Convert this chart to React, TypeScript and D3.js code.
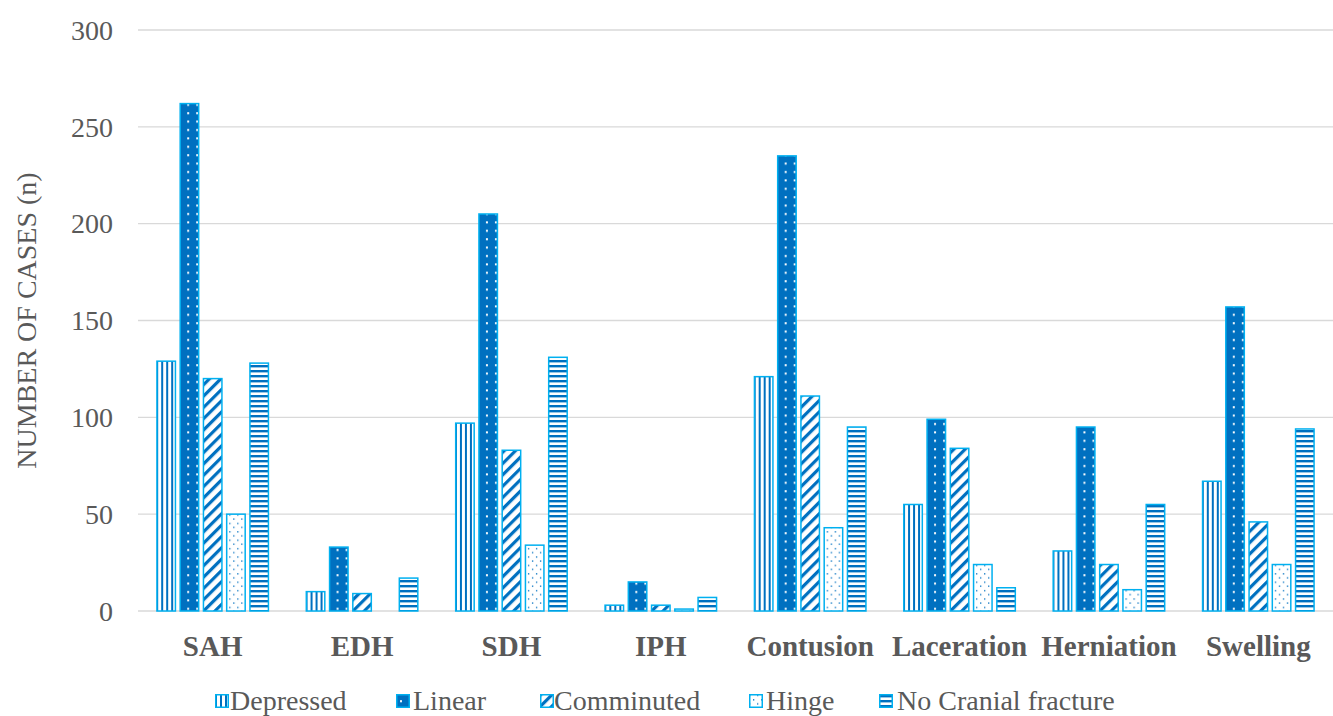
import React from "react";
import * as d3 from "d3";

const categories = ["SAH", "EDH", "SDH", "IPH", "Contusion", "Laceration", "Herniation", "Swelling"];
const seriesNames = ["Depressed", "Linear", "Comminuted", "Hinge", "No Cranial fracture"];
const depressed = [129, 10, 97, 3, 121, 55, 31, 67];
const linear = [262, 33, 205, 15, 235, 99, 95, 157];
const comminuted = [120, 9, 83, 3, 111, 84, 24, 46];
const hinge = [50, 0, 34, 1, 43, 24, 11, 24];
const noFracture = [128, 17, 131, 7, 95, 12, 55, 94];
const yTicks = [0, 50, 100, 150, 200, 250, 300];

const seriesValues = [depressed, linear, comminuted, hinge, noFracture];
const patternIds = ["pVert", "pDots", "pDiag", "pSparse", "pHoriz"];

const DARK = "#0070C0";
const LIGHT = "#00B0F0";
const FONT = "'Liberation Serif', 'Times New Roman', serif";

const W = 1333;
const H = 716;
const left = 138;
const right = 1333;
const top = 30;
const bottom = 611;
const groupW = 113;

export default function App() {
  const x0 = d3.scaleBand<string>().domain(categories).range([left, right]).padding(0);
  const x1 = d3
    .scaleBand<number>()
    .domain(d3.range(seriesNames.length))
    .range([0, groupW])
    .paddingInner(0.14);
  const groupOffset = (x0.bandwidth() - groupW) / 2;
  const y = d3.scaleLinear().domain([0, 300]).range([bottom, top]);

  const legendItems = [
    { sx: 215, tx: 230 },
    { sx: 396, tx: 413 },
    { sx: 540, tx: 554 },
    { sx: 749, tx: 766 },
    { sx: 879, tx: 897 },
  ];

  return (
    <svg width={W} height={H} style={{ position: "absolute", left: 0, top: 0, background: "#fff" }}>
      <defs>
        <pattern id="pVert" width={5} height={10} patternUnits="userSpaceOnUse">
          <rect width={5} height={10} fill="#fff" />
          <rect x={0} width={2} height={10} fill={DARK} />
        </pattern>
        <pattern id="pDots" width={9} height={8.4} patternUnits="userSpaceOnUse">
          <rect width={9} height={8.4} fill={DARK} />
          <rect x={4} y={3} width={2} height={2} fill="#fff" />
        </pattern>
        <pattern id="pDiag" width={8} height={8} patternUnits="userSpaceOnUse" patternTransform="rotate(45)">
          <rect width={8} height={8} fill="#fff" />
          <rect x={0} width={3.2} height={8} fill={DARK} />
        </pattern>
        <pattern id="pSparse" width={8} height={8.4} patternUnits="userSpaceOnUse">
          <rect width={8} height={8.4} fill="#fff" />
          <rect x={1} y={2} width={1.3} height={1.3} fill={DARK} />
          <rect x={5} y={6} width={1.3} height={1.3} fill={DARK} />
        </pattern>
        <pattern id="pHoriz" width={10} height={5} patternUnits="userSpaceOnUse">
          <rect width={10} height={5} fill="#fff" />
          <rect y={0} width={10} height={2.4} fill={DARK} />
        </pattern>
      </defs>

      {yTicks.map((t) => (
        <g key={t}>
          <line x1={left} x2={right} y1={y(t)} y2={y(t)} stroke="#d9d9d9" strokeWidth={1.3} />
          <text
            x={113}
            y={y(t)}
            dy="0.35em"
            textAnchor="end"
            fontFamily={FONT}
            fontSize={28}
            fill="#595959"
          >
            {t}
          </text>
        </g>
      ))}

      <text
        transform={`translate(26, ${(top + bottom) / 2}) rotate(-90)`}
        textAnchor="middle"
        dy="0.35em"
        fontFamily={FONT}
        fontSize={28}
        fill="#595959"
      >
        NUMBER OF CASES (n)
      </text>

      {categories.map((c, ci) => (
        <g key={c} transform={`translate(${(x0(c) ?? 0) + groupOffset}, 0)`}>
          {seriesValues.map((vals, si) => {
            const v = vals[ci];
            if (v <= 0) return null;
            const bx = x1(si) ?? 0;
            const bw = x1.bandwidth();
            return (
              <rect
                key={si}
                x={bx + 0.75}
                y={y(v)}
                width={bw - 1.5}
                height={bottom - y(v)}
                fill={`url(#${patternIds[si]})`}
                stroke={LIGHT}
                strokeWidth={1.5}
              />
            );
          })}
        </g>
      ))}

      {categories.map((c) => (
        <text
          key={c}
          x={(x0(c) ?? 0) + x0.bandwidth() / 2}
          y={646}
          dy="0.35em"
          textAnchor="middle"
          fontFamily={FONT}
          fontSize={29}
          fontWeight="bold"
          fill="#595959"
        >
          {c}
        </text>
      ))}

      {seriesNames.map((n, i) => (
        <g key={n}>
          <rect
            x={legendItems[i].sx + 0.75}
            y={694.75}
            width={12.5}
            height={12.5}
            fill={`url(#${patternIds[i]})`}
            stroke={LIGHT}
            strokeWidth={1.5}
          />
          <text
            x={legendItems[i].tx}
            y={700}
            dy="0.35em"
            fontFamily={FONT}
            fontSize={28}
            fill="#595959"
          >
            {n}
          </text>
        </g>
      ))}
    </svg>
  );
}
